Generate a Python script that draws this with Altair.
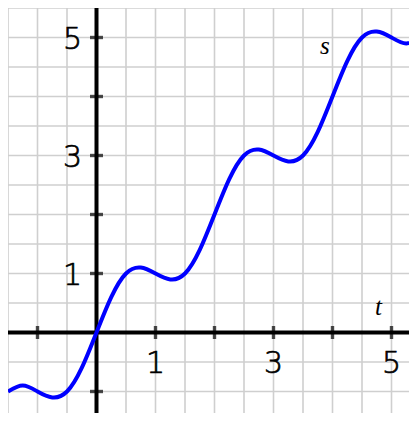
import altair as alt
import pandas as pd

# values
t_vals = [-1.5, -1.25, -1.0, -0.75, -0.5, -0.25, 0.0, 0.25, 0.5, 0.75, 1.0, 1.25, 1.5, 1.75,
          2.0, 2.25, 2.5, 2.75, 3.0, 3.25, 3.5, 3.75, 4.0, 4.25, 4.5, 4.75, 5.0, 5.25, 5.5]
s_vals = [-1.0, -0.9, -1.0, -1.1, -1.0, -0.6, 0.0, 0.6, 1.0, 1.1, 1.0, 0.9, 1.0, 1.4,
          2.0, 2.6, 3.0, 3.1, 3.0, 2.9, 3.0, 3.4, 4.0, 4.6, 5.0, 5.1, 5.0, 4.9, 5.0]

tick_positions = [-1, 1, 2, 3, 4, 5]
label_positions = [1, 3, 5]
label_texts = ["1", "3", "5"]
grid_values = [-1.5, -1.0, -0.5, 0.0, 0.5, 1.0, 1.5, 2.0, 2.5, 3.0, 3.5, 4.0, 4.5, 5.0, 5.5]
var_names = ["t", "s"]
var_t = [4.78, 3.87]
var_s = [0.30, 4.72]

W, H = 401, 405
PX = 59.0
X_DOMAIN = [-1.5, -1.5 + W / PX]
Y_DOMAIN = [5.5 - H / PX, 5.5]

curve = pd.DataFrame({"t": t_vals, "s": s_vals})
ticks = pd.DataFrame({"v": tick_positions, "z": [0] * len(tick_positions)})
labels = pd.DataFrame({"v": label_positions, "z": [0] * len(label_positions), "txt": label_texts})
names = pd.DataFrame({"t": var_t, "s": var_s, "txt": var_names})
origin = pd.DataFrame({"z": [0]})
grid = pd.DataFrame({"g": grid_values})

xs = alt.Scale(domain=X_DOMAIN, nice=False, zero=False)
ys = alt.Scale(domain=Y_DOMAIN, nice=False, zero=False)

vgrid = alt.Chart(grid).mark_rule(color="#cfcfcf", strokeWidth=1.6, clip=True).encode(
    x=alt.X("g:Q", scale=xs, axis=None),
)
hgrid = alt.Chart(grid).mark_rule(color="#cfcfcf", strokeWidth=1.6, clip=True).encode(
    y=alt.Y("g:Q", scale=ys, axis=None),
)

line = alt.Chart(curve).mark_line(color="#0000ff", strokeWidth=4, interpolate="natural", clip=True).encode(
    x=alt.X("t:Q", scale=xs, axis=None),
    y=alt.Y("s:Q", scale=ys, axis=None),
)

xaxis = alt.Chart(origin).mark_rule(color="black", strokeWidth=4).encode(
    y=alt.Y("z:Q", scale=ys, axis=None),
)
yaxis = alt.Chart(origin).mark_rule(color="black", strokeWidth=4).encode(
    x=alt.X("z:Q", scale=xs, axis=None),
)

xticks = alt.Chart(ticks).mark_tick(orient="vertical", color="black", size=13, thickness=3.4).encode(
    x=alt.X("v:Q", scale=xs, axis=None), y=alt.Y("z:Q", scale=ys, axis=None),
)
yticks = alt.Chart(ticks).mark_tick(orient="horizontal", color="black", size=13, thickness=3.4).encode(
    x=alt.X("z:Q", scale=xs, axis=None), y=alt.Y("v:Q", scale=ys, axis=None),
)

label_style = dict(font="DejaVu Sans", fontSize=30, fontWeight=200, stroke="black", strokeWidth=0.7,
                   baseline="alphabetic", align="center", color="black")

xlabels = alt.Chart(labels).mark_text(dy=40, **label_style).encode(
    x=alt.X("v:Q", scale=xs, axis=None), y=alt.Y("z:Q", scale=ys, axis=None), text="txt:N",
)
ylabels = alt.Chart(labels).mark_text(dx=-24, dy=11, **label_style).encode(
    x=alt.X("z:Q", scale=xs, axis=None), y=alt.Y("v:Q", scale=ys, axis=None), text="txt:N",
)

varnames = alt.Chart(names).mark_text(font="Liberation Serif", fontStyle="italic", fontSize=25,
                                      baseline="alphabetic", align="center", color="black").encode(
    x=alt.X("t:Q", scale=xs, axis=None), y=alt.Y("s:Q", scale=ys, axis=None), text="txt:N",
)

chart = alt.layer(vgrid, hgrid, xaxis, yaxis, xticks, yticks, line, xlabels, ylabels, varnames).properties(
    width=W, height=H, padding=0, autosize=alt.AutoSizeParams(type="none")
).configure_view(stroke=None)

chart.save("out.html", embed_options={"renderer": "svg", "actions": False})
